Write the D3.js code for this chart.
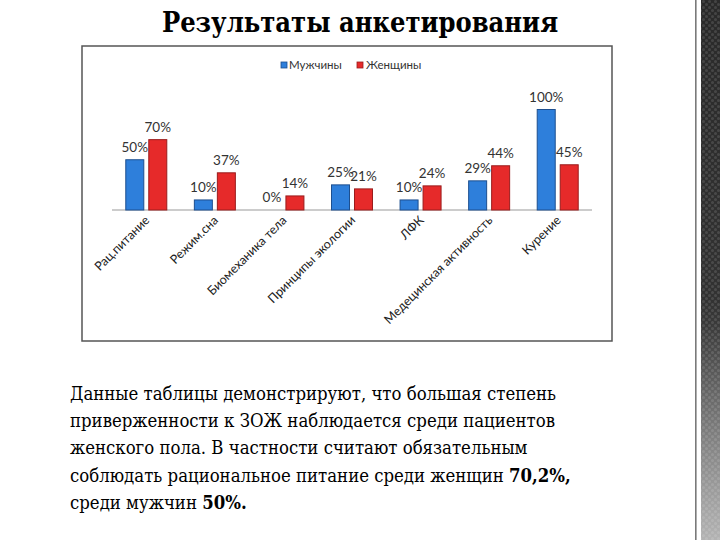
<!DOCTYPE html>
<html><head><meta charset="utf-8">
<script src="https://cdn.jsdelivr.net/npm/d3@7"></script>
<style>body{margin:0;background:#fff}svg{display:block}
.serif{font-family:"DejaVu Serif",serif;font-stretch:condensed}</style>
</head><body>
<script>
const categories = ["Рац.питание","Режим.сна","Биомеханика тела","Принципы экологии","ЛФК","Медецинская активность","Курение"];
const seriesNames = ["Мужчины","Женщины"];
const men   = [50,10,0,25,10,29,100];
const women = [70,37,14,21,24,44,45];
const title = "Результаты анкетирования";
const bodyLines = [
  [["Данные таблицы демонстрируют, что большая степень",false]],
  [["приверженности к ЗОЖ наблюдается среди пациентов",false]],
  [["женского пола. В частности считают обязательным",false]],
  [["соблюдать рациональное питание среди женщин ",false],["70,2%,",true]],
  [["среди мужчин ",false],["50%.",true]]
];
const fills = ["#2e7fdb","#e62a2a"];
const strokes = ["#1d4f8f","#9a1c1c"];

const svg = d3.select("body").append("svg").attr("width",720).attr("height",540);

// decorative right strip
const defs = svg.append("defs");
const grad = defs.append("linearGradient").attr("id","g").attr("x1",0).attr("y1",0).attr("x2",0).attr("y2",1);
grad.append("stop").attr("offset","0").attr("stop-color","#2a2a2a");
grad.append("stop").attr("offset","0.6").attr("stop-color","#333");
grad.append("stop").attr("offset","1").attr("stop-color","#8a8a8a");
const pat = defs.append("pattern").attr("id","dots").attr("patternUnits","userSpaceOnUse").attr("width",6).attr("height",6);
pat.append("circle").attr("cx",1.5).attr("cy",1.5).attr("r",1.5).attr("fill","#fff").attr("opacity",0.12);
pat.append("circle").attr("cx",4.5).attr("cy",4.5).attr("r",1.5).attr("fill","#fff").attr("opacity",0.12);
const pgrad = defs.append("linearGradient").attr("id","g2").attr("x1",0).attr("y1",0).attr("x2",0).attr("y2",1);
pgrad.append("stop").attr("offset","0").attr("stop-color","#fff").attr("stop-opacity",0);
pgrad.append("stop").attr("offset","1").attr("stop-color","#fff").attr("stop-opacity",0.35);
svg.append("rect").attr("x",695).attr("y",0).attr("width",1.6).attr("height",540).attr("fill","#7a7a7a");
svg.append("rect").attr("x",701).attr("y",0).attr("width",19).attr("height",540).attr("fill","url(#g)");
svg.append("rect").attr("x",701).attr("y",0).attr("width",19).attr("height",540).attr("fill","url(#dots)");
svg.append("rect").attr("x",701).attr("y",300).attr("width",19).attr("height",240).attr("fill","url(#g2)");

// title
svg.append("text").attr("class","serif").attr("x",360).attr("y",32).attr("text-anchor","middle")
  .attr("font-weight","bold").attr("font-size",27).attr("fill","#000").text(title);

// chart frame
svg.append("rect").attr("x",82).attr("y",46).attr("width",530).attr("height",295)
  .attr("fill","#fff").attr("stroke","#555").attr("stroke-width",1.5);

const x0 = d3.scaleBand().domain(categories).range([112,592]);
const bw = x0.bandwidth();
const x1 = d3.scaleBand().domain(seriesNames).range([bw/2-20.5, bw/2+20.5]).paddingInner(0.217);
const y = d3.scaleLinear().domain([0,100]).range([210,109.5]);

const font = "Lato, 'Open Sans', sans-serif";
const data = [men, women];

// axis baseline
svg.append("line").attr("x1",112).attr("x2",592).attr("y1",y(0)).attr("y2",y(0)).attr("stroke","#999").attr("stroke-width",1);

const g = svg.append("g");
seriesNames.forEach((s,si)=>{
  categories.forEach((c,ci)=>{
    const v = data[si][ci];
    const bx = x0(c)+x1(s);
    if (v>0) {
      g.append("rect").attr("x",bx).attr("y",y(v)).attr("width",x1.bandwidth()).attr("height",y(0)-y(v))
        .attr("fill",fills[si]).attr("stroke",strokes[si]).attr("stroke-width",1);
    }
    g.append("text").attr("x",bx+x1.bandwidth()/2).attr("y",y(v)-8).attr("text-anchor","middle")
      .attr("font-family",font).attr("font-size",13.5).attr("fill","#333").text(v+"%");
  });
});

// category labels
categories.forEach(c=>{
  const cx = x0(c)+bw/2+4;
  svg.append("text").attr("transform",`translate(${cx},221) rotate(-45)`).attr("text-anchor","end")
    .attr("font-family",font).attr("font-size",12.5).attr("fill","#222").text(c);
});

// legend
const leg = [[281,289],[357,366]];
seriesNames.forEach((s,i)=>{
  svg.append("rect").attr("x",leg[i][0]).attr("y",62).attr("width",6).attr("height",6)
    .attr("fill",fills[i]).attr("stroke",strokes[i]).attr("stroke-width",0.8);
  svg.append("text").attr("x",leg[i][1]).attr("y",69).attr("font-family",font).attr("font-size",11.5).attr("fill","#333").text(s);
});

// body text
bodyLines.forEach((line,i)=>{
  const t = svg.append("text").attr("class","serif").attr("x",70).attr("y",400+i*27.2)
    .attr("font-size",18.4).attr("fill","#000");
  line.forEach(([txt,b])=>{
    t.append("tspan").attr("font-weight",b?"bold":"normal").text(txt);
  });
});
</script>
</body></html>
